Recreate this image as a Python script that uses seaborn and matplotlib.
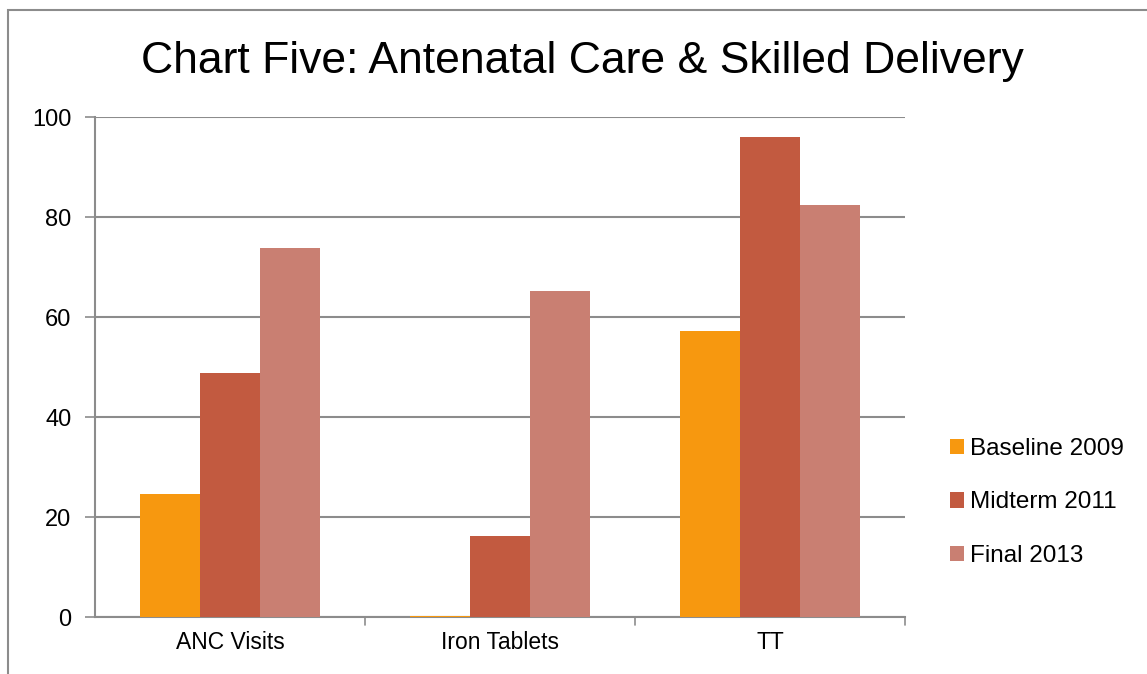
import matplotlib
matplotlib.use("Agg")
import matplotlib.pyplot as plt
import seaborn as sns
import pandas as pd
from matplotlib.patches import Rectangle

categories = ["ANC Visits", "Iron Tablets", "TT"]
series = ["Baseline 2009", "Midterm 2011", "Final 2013"]
baseline_2009 = [24.6, 0.3, 57.2]
midterm_2011 = [48.8, 16.3, 96.0]
final_2013 = [73.8, 65.2, 82.4]
colors = ["#F7980F", "#C25A40", "#C97F72"]

rows = []
for s, vals in zip(series, [baseline_2009, midterm_2011, final_2013]):
    for c, v in zip(categories, vals):
        rows.append({"Category": c, "Series": s, "Value": v})
df = pd.DataFrame(rows)

sns.set_style("white")
plt.rcParams['font.family'] = ['Liberation Sans', 'DejaVu Sans']
plt.rcParams['text.color'] = 'black'
plt.rcParams['xtick.color'] = 'black'
plt.rcParams['ytick.color'] = 'black'

fig = plt.figure(figsize=(11.47, 6.74), dpi=100)
ax = fig.add_axes([95/1147, 1-617/674, (905-95)/1147, (617-117)/674])

sns.barplot(data=df, x="Category", y="Value", hue="Series", palette=colors,
            width=0.667, gap=0, saturation=1, ax=ax, edgecolor="none", zorder=3)

ax.set_ylim(0, 100)
ax.set_xlim(-0.5, 2.5)
ax.set_yticks([0, 20, 40, 60, 80, 100])
ax.yaxis.grid(True, color="#8c8c8c", linewidth=1.5, zorder=0)
ax.set_axisbelow(True)
ax.set_xlabel("")
ax.set_ylabel("")
for sp in ["top", "right"]:
    ax.spines[sp].set_visible(False)
for sp in ["left", "bottom"]:
    ax.spines[sp].set_color("#8c8c8c")
    ax.spines[sp].set_linewidth(1.5)
ax.tick_params(axis="y", length=7, width=1.2, color="#8c8c8c", labelcolor="black",
               labelsize=17, pad=10, left=True)
ax.set_xticks([0, 1, 2])
ax.set_xticklabels(categories)
ax.tick_params(axis="x", length=0, labelsize=16.5, labelcolor="black", pad=10)
for xb in [0.5, 1.5, 2.5]:
    ax.plot([xb, xb], [0, -1.6], color="#8c8c8c", lw=1.2, clip_on=False, transform=ax.transData)

leg = ax.legend(loc="center left", bbox_to_anchor=(1.028, 0.229), frameon=False,
                fontsize=17.5, handlelength=0.6, handleheight=0.6, handletextpad=0.25,
                labelspacing=1.3)

fig.text(582/1147, 1-62/674, "Chart Five: Antenatal Care & Skilled Delivery",
         ha="center", va="center", fontsize=32, color="black",
         family=['Liberation Sans Narrow', 'Liberation Sans', 'DejaVu Sans'])

fig.patches.append(Rectangle((8/1147, -0.01), 1.2, 1-10/674 + 0.01, transform=fig.transFigure,
                             fill=False, edgecolor="#8c8c8c", linewidth=1.5))

fig.savefig("out.png", dpi=100)
